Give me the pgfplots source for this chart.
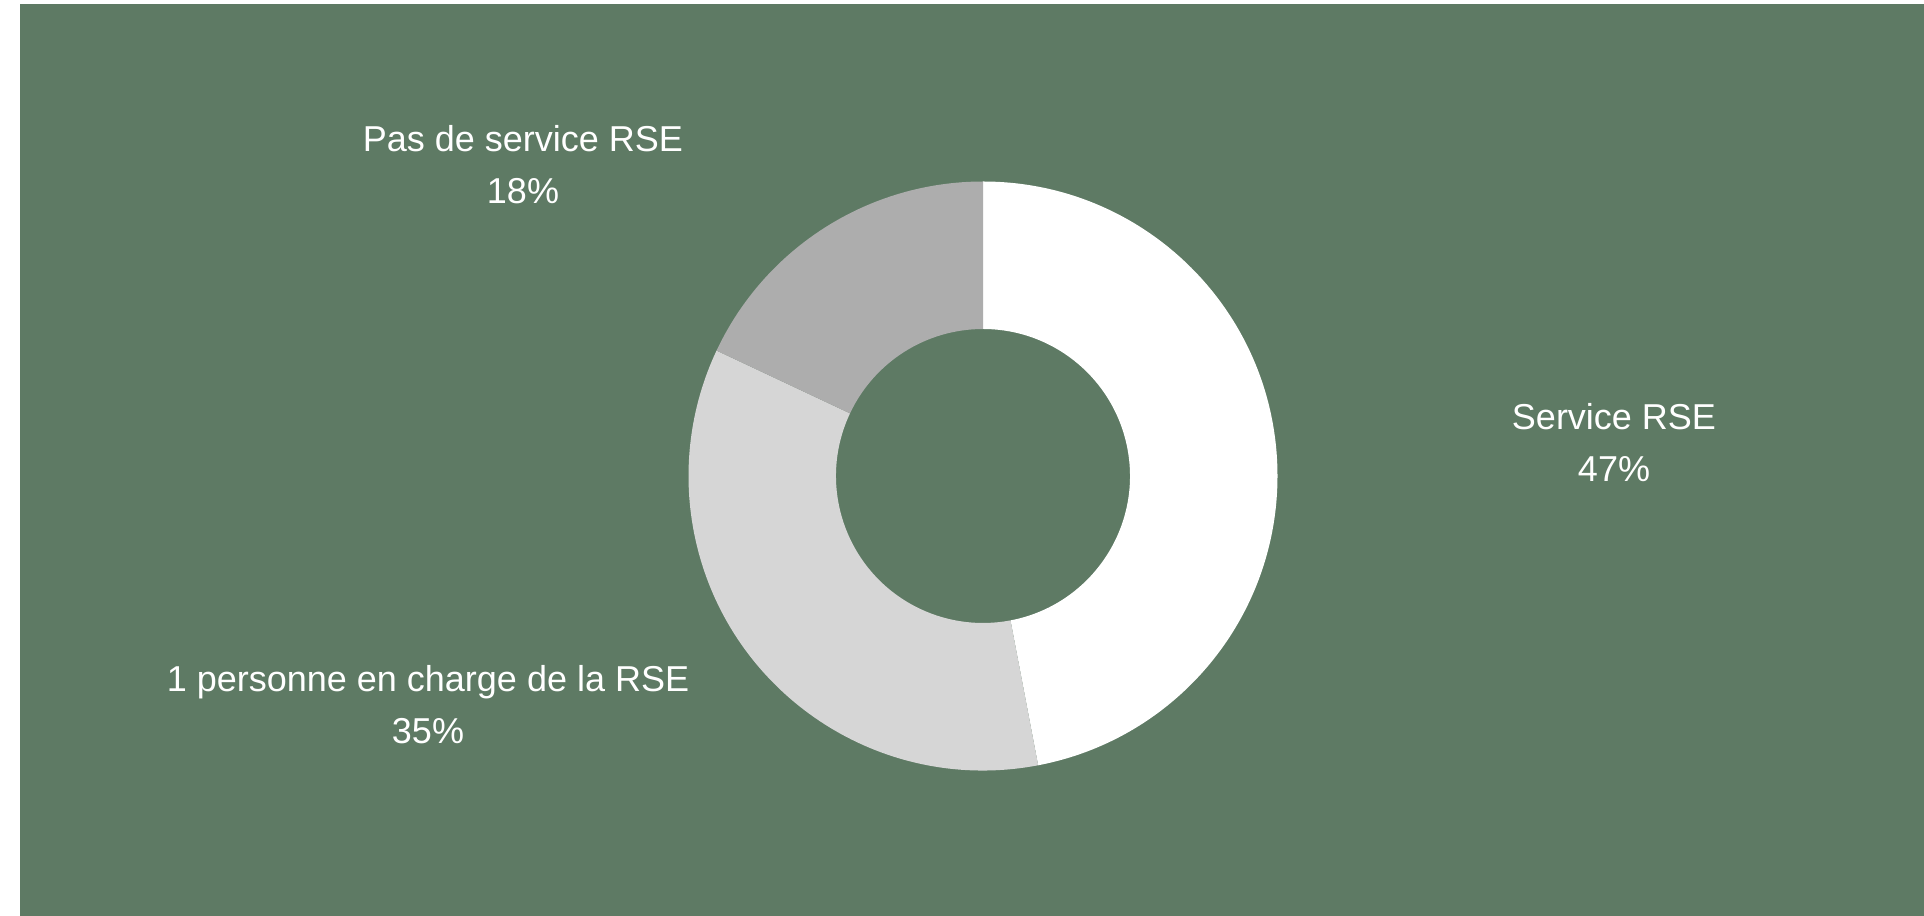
\documentclass[border=0pt]{standalone}
\usepackage{pgfplots}
\usepackage{pgfplotstable}
\pgfplotsset{compat=1.18}
\usepackage{fontspec}
\setmainfont{Liberation Sans}
\definecolor{bggreen}{HTML}{5E7A64}
\definecolor{sliceA}{HTML}{FFFFFF}
\definecolor{sliceB}{HTML}{D6D6D6}
\definecolor{sliceC}{HTML}{ADADAD}
\pgfplotstableread{
label value
ServiceRSE 47
UnePersonne 35
PasDeService 18
}\shares
\begin{document}
\begin{tikzpicture}
\pgfplotstablegetelem{0}{value}\of\shares \let\va\pgfplotsretval
\pgfplotstablegetelem{1}{value}\of\shares \let\vb\pgfplotsretval
\pgfplotstablegetelem{2}{value}\of\shares \let\vc\pgfplotsretval
\pgfmathsetmacro{\aZ}{90}
\pgfmathsetmacro{\aA}{\aZ-3.6*\va}
\pgfmathsetmacro{\aB}{\aA-3.6*\vb}
\pgfmathsetmacro{\aC}{\aB-3.6*\vc}
\def\cx{983}\def\cy{440}\def\Ro{294.5}\def\Ri{147}
\begin{axis}[
  scale only axis, width=962pt, height=458pt,
  xmin=0, xmax=1924, ymin=0, ymax=916,
  hide axis, clip=false,
]
\fill[white] (axis cs:0,0) rectangle (axis cs:1924,916);
\fill[bggreen] (axis cs:20,0) rectangle (axis cs:1924,912);
% slice 1
\fill[sliceA] (axis cs:{\cx+\Ro*cos(\aZ)},{\cy+\Ro*sin(\aZ)}) arc[start angle=\aZ, end angle=\aA, radius=147.25pt]
  -- (axis cs:{\cx+\Ri*cos(\aA)},{\cy+\Ri*sin(\aA)}) arc[start angle=\aA, end angle=\aZ, radius=73.5pt] -- cycle;
\fill[sliceB] (axis cs:{\cx+\Ro*cos(\aA)},{\cy+\Ro*sin(\aA)}) arc[start angle=\aA, end angle=\aB, radius=147.25pt]
  -- (axis cs:{\cx+\Ri*cos(\aB)},{\cy+\Ri*sin(\aB)}) arc[start angle=\aB, end angle=\aA, radius=73.5pt] -- cycle;
\fill[sliceC] (axis cs:{\cx+\Ro*cos(\aB)},{\cy+\Ro*sin(\aB)}) arc[start angle=\aB, end angle=\aC, radius=147.25pt]
  -- (axis cs:{\cx+\Ri*cos(\aC)},{\cy+\Ri*sin(\aC)}) arc[start angle=\aC, end angle=\aB, radius=73.5pt] -- cycle;
\begin{scope}[every node/.style={text=white, align=center, font=\fontsize{18}{25.75}\selectfont, inner sep=0pt}]
\node at (axis cs:523,751.5) {Pas de service RSE\\18\%};
\node at (axis cs:1614,473.5) {Service RSE\\47\%};
\node at (axis cs:428,211.5) {1 personne en charge de la RSE\\35\%};
\end{scope}
\end{axis}
\end{tikzpicture}
\end{document}
